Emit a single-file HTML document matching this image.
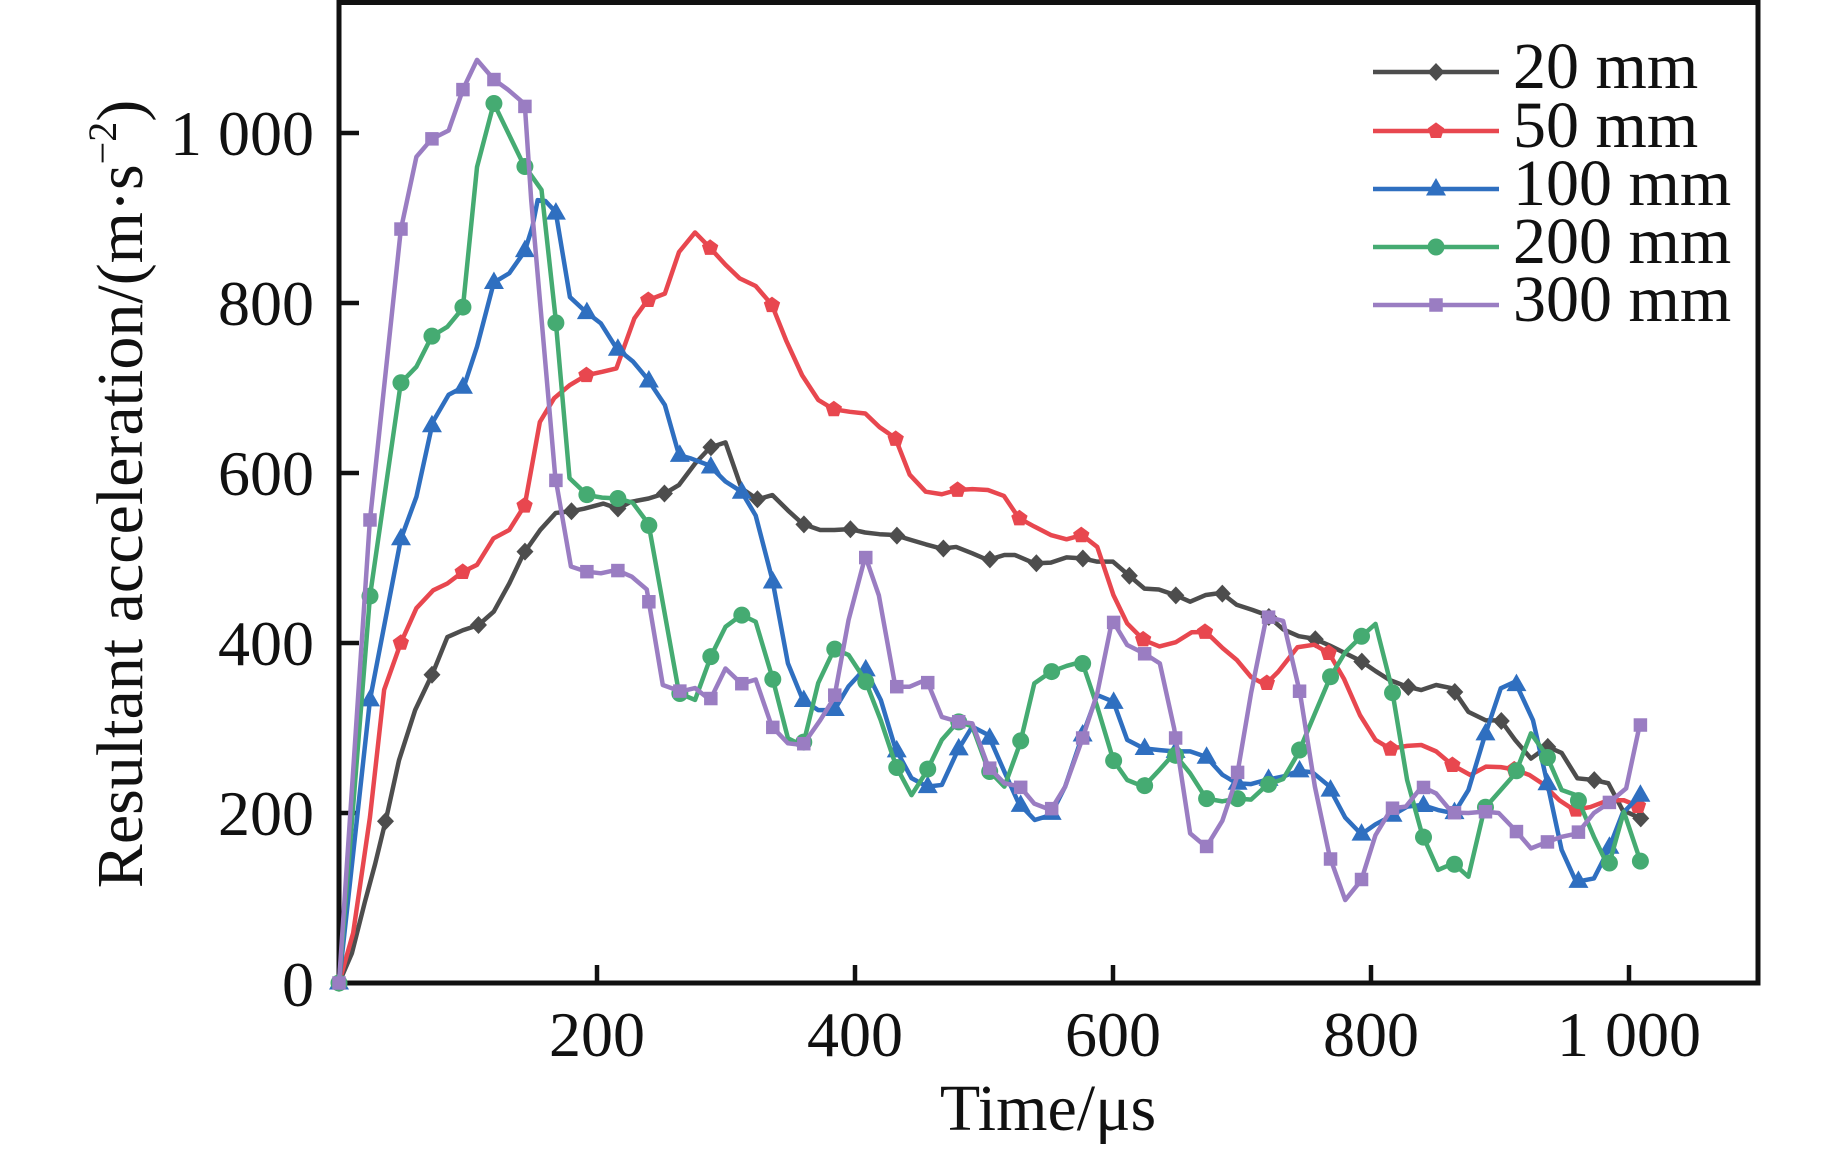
<!DOCTYPE html>
<html>
<head>
<meta charset="utf-8">
<style>
  html,body{margin:0;padding:0;background:#fff;}
  svg{display:block;}
  text{font-family:"Liberation Serif","Times New Roman",serif;fill:#111;}
</style>
</head>
<body>
<svg id="chart" xmlns="http://www.w3.org/2000/svg" width="1843" height="1149" viewBox="0 0 1843 1149">
  <rect x="0" y="0" width="1843" height="1149" fill="#fff"/>

  <!-- frame -->
  <rect x="339" y="2.5" width="1419" height="980.5" fill="none" stroke="#111" stroke-width="5"/>
  <!-- ticks -->
  <g stroke="#111" stroke-width="4.5">
    <line x1="597" y1="983" x2="597" y2="965"/>
    <line x1="855" y1="983" x2="855" y2="965"/>
    <line x1="1113" y1="983" x2="1113" y2="965"/>
    <line x1="1371" y1="983" x2="1371" y2="965"/>
    <line x1="1629" y1="983" x2="1629" y2="965"/>
    <line x1="339" y1="813" x2="359" y2="813"/>
    <line x1="339" y1="643" x2="359" y2="643"/>
    <line x1="339" y1="473" x2="359" y2="473"/>
    <line x1="339" y1="303" x2="359" y2="303"/>
    <line x1="339" y1="133" x2="359" y2="133"/>
  </g>

  <!-- series -->
  <g fill="none" stroke-width="4.5" stroke-linejoin="round" stroke-linecap="round">
    <g transform="matrix(1.29 0 0 -0.85 339 983)">
      <polyline id="p20" vector-effect="non-scaling-stroke" stroke="#4d4d4d" points="0,0 10,35 20,95 28,140 36.8,195 46.5,262 59,321 72.8,365 84,407 96,415 108,421 120,437 132,470 143,505 156,533 168,553 180,555 190,558 205,564 216.6,558 226,566 240,570 252.6,576 263.6,586 276,611 287.7,630 299.6,636 312,582 324.5,569 336,574 348,556 359.6,540 373,533 384,533 396,534 407.8,530 419,528 431,527 443.8,521 455,516 467.3,511 478.4,513 490.9,505.5 503,497.6 515.8,503.5 524,503.5 539,493.7 551.8,494.5 564,500.8 576,499.6 587.8,495.7 600,495.7 612,480 624.4,464 635.5,463 648,456.5 659.8,448.6 672,456.5 684,459 695.8,445 708,439 719,433 732,416 744,408 756,405 768,397 780,388 792,379 803.5,367 814.4,356.5 828,348.6 839,344.7 850.5,350.6 863,346.7 875.5,319 889,309 900.6,309 911.7,286 924,264 936.7,278 947.8,270.6 960,240.8 972.8,238.8 984,235 995,203.5 1009,193.7"/>
    </g>
    <g id="m20"></g>
    <g transform="matrix(1.29 0 0 -0.85 339 983)">
      <polyline id="p50" vector-effect="non-scaling-stroke" stroke="#e8474f" points="0,0 11,59 24,195 35,345 47.9,400 60,441 73,462 84,470 96.3,484 107,492 119.7,523 132,533 144,562 155.7,660 166.8,688 179,703.5 191.7,715 204,719 215,723 229,782 239,803 252.6,811 263.6,860 276,883 287,866 299.6,845 310.6,829 323,820 335.5,798 346.6,756 359,715 371.5,686 383.4,675 396,672 408,670 419,654 431.3,641 442.4,598 454.8,578 467.3,575 479,580 491,581 503,580 515.5,573 527,547 539,537 551.8,527 564,522 576,527 587.8,513 600.3,456.5 611,423 623.8,403.5 636,396 648.8,401 661,412.6 672,413 685,394 696,380 707,360 718,351 728,366 743,395 756,398 767.5,388 779,358 791.5,315 803.5,286 815,275.5 828,279 839,280 850.5,272.5 863,256.5 877,244.7 889,254.5 900.6,254 911.7,251 922.8,244.7 932.5,235 946,215 957.5,203.5 970,207 984,215 996,215 1009,207"/>
    </g>
    <g id="m50"></g>
    <g transform="matrix(1.29 0 0 -0.85 339 983)">
      <polyline id="p100" vector-effect="non-scaling-stroke" stroke="#2f6fc0" points="0,0 24,333 47.9,522 60,572 72.7,660 85,692 96.8,701.5 107,748.6 120,824 132,835 144,861 150,890 154,921 160,920 168,907 179,807 191,790 203,776 215,747 228,731 239,711 252.6,680 263.6,621 273,617 287,609 299.6,590 312,578 323,550 336,474 348,376 359.6,333 371.5,321 384,321 395,349 407.8,370 420,333 431.3,276 443.8,241 456,231 467.3,233 479.8,274 490.9,301.6 503.3,291.8 515.8,248.6 526.9,211.4 539.3,191.8 551.8,197.6 562.9,231 576,289.8 587.8,338.8 600.3,331 611,286 623.8,276 636.3,274 647.4,272.5 659.8,272.5 672.3,266 684.8,245 695.8,235 707,234 719,239 731.9,243 744,249.6 754.5,248 766.5,233 780,194.7 792.5,175 803.5,186.7 816,196.8 828,207.5 839.4,209.5 852,203.5 864.4,199.6 875.5,227 888,289.8 900.6,346.7 911.7,354.5 925.6,309 936.7,235 947.8,156.5 959,119 972.8,123 984,156.5 995,199.6 1008.9,221"/>
    </g>
    <g id="m100"></g>
    <g transform="matrix(1.29 0 0 -0.85 339 983)">
      <polyline id="p200" vector-effect="non-scaling-stroke" stroke="#45ab72" points="0,0 24,455 47.9,706 60,725 72,761 84,772 96,794 107,960 120,1035 143,963 157,933 167.6,786 178.7,594 192.5,574 204,571 216.6,570 227.7,565 240,540 263.6,341 276,333 288.5,385 299.6,419 312,433 323,425 336,359 348,288 359.6,279 371.5,353 384,393 395,386 407.8,356.5 420,309 432,254.5 443.8,221 455.4,248.6 467.3,286 479.8,307.5 490.9,302 503.3,250.6 515.8,231 528,282 539,352.5 551.8,366 564,373 576,378 587.8,325 600.3,262 611,238.8 623.8,231 635,249 647.4,270 659.8,246.7 672.3,217 684.8,213.7 695.8,217 707,215.7 719.4,233 731.9,240 743.5,270 756.5,317 768.5,360 780,389 792,407 803.5,422.5 816,347.7 828,238.8 839.4,176 852,133 863.9,140.8 875.5,125 888,205.5 900.6,227 912,246.7 924,293.7 936,268 947.8,227 959,221 972.8,172 984,136.8 996,201.5 1009,142.7"/>
    </g>
    <g id="m200"></g>
    <g transform="matrix(1.29 0 0 -0.85 339 983)">
      <polyline id="p300" vector-effect="non-scaling-stroke" stroke="#9a7dc2" points="0,0 23.8,541.6 47.9,886 60,972 71.9,993 85,1003 96.3,1052 107,1086 120,1063 131,1051 144,1034 149,921 167.6,596 179.8,490 191.7,484 203,482 215,486 227,478 238.6,463 251,350.6 265,343 276,347 287.7,333 299.6,370 312,352 323,357 335.5,302 348,282 359.6,280 373,309 384,336 395,427 408,502 418.5,456 431.3,348.6 442.4,348.6 455.4,357 467.3,313 479.8,307.5 490.9,305.5 503.3,254.5 515.8,235 528,231 539,211 551.8,203.5 562.9,231 576,286 587.8,340.8 599.4,427 611,397.6 623.8,388 636.3,376 647.4,299.6 659.8,176 672.3,160 684.8,191 695.8,240.8 707,340.8 719,431 731.9,426 745,340.8 756.5,231 768,148.6 780,97.6 792.5,121 803.5,174 816,205.5 827,207.5 839.4,231 850.5,223 863,200.4 875.5,200 888,201.6 899,200 911.7,180 924,158.4 935,165 947.8,172 960,176 972.8,200 984,211.4 997.8,229 1008.3,303.5"/>
    </g>
    <g id="m300"></g>
  </g>

  <!-- tick labels -->
  <g font-size="64" text-anchor="end">
    <text x="314" y="1006">0</text>
    <text x="314" y="835">200</text>
    <text x="314" y="665">400</text>
    <text x="314" y="495">600</text>
    <text x="314" y="325">800</text>
    <text x="314" y="155">1 000</text>
  </g>
  <g font-size="64" text-anchor="middle">
    <text x="597" y="1056">200</text>
    <text x="855" y="1056">400</text>
    <text x="1113" y="1056">600</text>
    <text x="1371" y="1056">800</text>
    <text x="1629" y="1056">1 000</text>
  </g>

  <!-- axis titles -->
  <text x="1048" y="1130" font-size="66" text-anchor="middle">Time/μs</text>
  <text transform="translate(142,494) rotate(-90)" font-size="66" text-anchor="middle">Resultant acceleration/(m·s<tspan font-size="40" dy="-26">−2</tspan><tspan dy="26">)</tspan></text>

  <!-- legend -->
  <g stroke-width="4.5" fill="none">
    <line x1="1373" y1="72" x2="1499" y2="72" stroke="#4d4d4d"/>
    <line x1="1373" y1="131" x2="1499" y2="131" stroke="#e8474f"/>
    <line x1="1373" y1="189" x2="1499" y2="189" stroke="#2f6fc0"/>
    <line x1="1373" y1="247" x2="1499" y2="247" stroke="#45ab72"/>
    <line x1="1373" y1="305" x2="1499" y2="305" stroke="#9a7dc2"/>
  </g>
  <polygon points="1436,63 1444.5,72 1436,81 1427.5,72" fill="#4d4d4d"/>
  <polygon points="1436,122.4 1444.2,128.3 1441.1,138 1430.9,138 1427.8,128.3" fill="#e8474f"/>
  <polygon points="1436,178 1446,195.5 1426,195.5" fill="#2f6fc0"/>
  <circle cx="1436" cy="247" r="8.5" fill="#45ab72"/>
  <rect x="1429.25" y="298.25" width="13.5" height="13.5" fill="#9a7dc2"/>
  <g font-size="66">
    <text x="1513" y="88">20 mm</text>
    <text x="1513" y="147">50 mm</text>
    <text x="1513" y="205">100 mm</text>
    <text x="1513" y="263">200 mm</text>
    <text x="1513" y="321">300 mm</text>
  </g>
</svg>
<script>
(function(){
  var NS="http://www.w3.org/2000/svg";
  function parse(id){
    var s=document.getElementById(id).getAttribute("points").trim().split(/\s+/);
    return s.map(function(p){var a=p.split(",");return [parseFloat(a[0]),parseFloat(a[1])];});
  }
  function interp(pts,t){
    if(t<=pts[0][0])return pts[0][1];
    for(var i=1;i<pts.length;i++){
      if(t<=pts[i][0]){
        var a=pts[i-1],b=pts[i];
        return a[1]+(b[1]-a[1])*(t-a[0])/(b[0]-a[0]);
      }
    }
    return pts[pts.length-1][1];
  }
  function X(t){return 339+1.29*t;}
  function Y(v){return 983-0.85*v;}
  function shape(kind,x,y,color){
    var el;
    if(kind==="diamond"){
      el=document.createElementNS(NS,"polygon");
      el.setAttribute("points",[x+","+(y-9),(x+8.5)+","+y,x+","+(y+9),(x-8.5)+","+y].join(" "));
    }else if(kind==="pent"){
      var R=8.6,pts=[];
      for(var k=0;k<5;k++){var ang=(-90+72*k)*Math.PI/180;pts.push((x+R*Math.cos(ang)).toFixed(2)+","+(y+R*Math.sin(ang)).toFixed(2));}
      el=document.createElementNS(NS,"polygon");
      el.setAttribute("points",pts.join(" "));
    }else if(kind==="tri"){
      el=document.createElementNS(NS,"polygon");
      el.setAttribute("points",[x+","+(y-11),(x+10)+","+(y+6.5),(x-10)+","+(y+6.5)].join(" "));
    }else if(kind==="circ"){
      el=document.createElementNS(NS,"circle");
      el.setAttribute("cx",x);el.setAttribute("cy",y);el.setAttribute("r",8.5);
    }else{
      el=document.createElementNS(NS,"rect");
      el.setAttribute("x",x-6.75);el.setAttribute("y",y-6.75);
      el.setAttribute("width",13.5);el.setAttribute("height",13.5);
    }
    el.setAttribute("fill",color);
    el.setAttribute("stroke","none");
    return el;
  }
  var S=[
    {p:"p20",g:"m20",step:36.04,n:28,kind:"diamond",c:"#4d4d4d"},
    {p:"p50",g:"m50",step:47.95,n:21,kind:"pent",c:"#e8474f"},
    {p:"p100",g:"m100",step:24.02,n:42,kind:"tri",c:"#2f6fc0"},
    {p:"p200",g:"m200",step:24.02,n:42,kind:"circ",c:"#45ab72"},
    {p:"p300",g:"m300",step:24.02,n:42,kind:"sq",c:"#9a7dc2"}
  ];
  S.forEach(function(s){
    var pts=parse(s.p),g=document.getElementById(s.g);
    for(var k=0;k<=s.n;k++){
      var t=s.step*k,v=interp(pts,t);
      g.appendChild(shape(s.kind,X(t),Y(v),s.c));
    }
  });
})();
</script>
</body>
</html>
